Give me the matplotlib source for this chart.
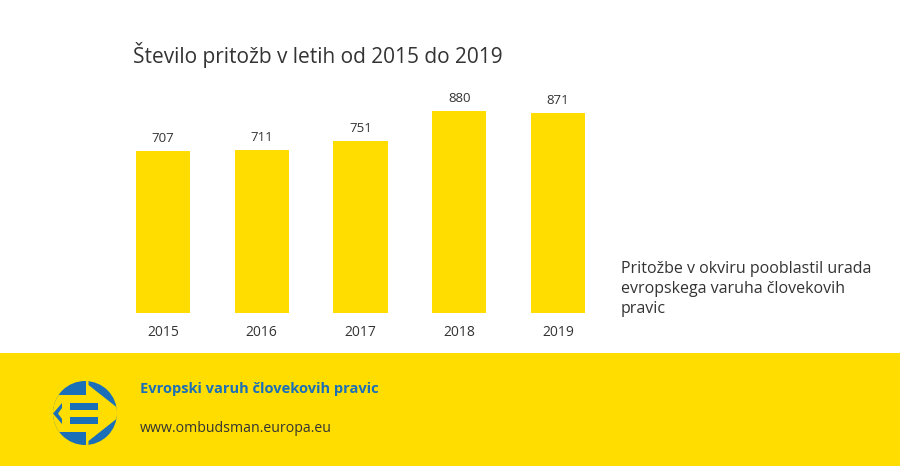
import matplotlib
matplotlib.use("Agg")
import matplotlib.pyplot as plt
from matplotlib.patches import Circle, Polygon, Rectangle

plt.rcParams['font.family'] = ['Open Sans', 'DejaVu Sans']

years = ['2015', '2016', '2017', '2018', '2019']
complaints = [707, 711, 751, 880, 871]
title = 'Število pritožb v letih od 2015 do 2019'
legend_text = 'Pritožbe v okviru pooblastil urada\nevropskega varuha človekovih\npravic'
footer_name = 'Evropski varuh človekovih pravic'
footer_url = 'www.ombudsman.europa.eu'

W, H = 900, 466
yellow = '#FFDD00'
blue = '#1B6FB8'
dark = '#333333'

fig = plt.figure(figsize=(9, 4.66), dpi=100)


def fx(x):
    return x / W


def fy(y):
    return 1 - y / H


# footer band (drawn below the axes)
fig.patches.append(Rectangle((0, 0), 1, fy(353), transform=fig.transFigure,
                             facecolor=yellow, edgecolor='none', zorder=-5))

# bar chart
ax = fig.add_axes([fx(113.6), fy(313), fx(607.4 - 113.6), (313 - 83.5) / H])
x = list(range(len(years)))
bars = ax.bar(x, complaints, width=0.55, color=yellow)
for xi, v in zip(x, complaints):
    ax.text(xi, v + 25, str(v), ha='center', va='bottom', fontsize=9.5, color=dark)
ax.set_xlim(-0.5, 4.5)
ax.set_ylim(0, 1000)
ax.set_xticks(x)
ax.set_xticklabels(years, fontsize=10, color=dark)
ax.tick_params(axis='x', length=0, pad=9)
ax.set_yticks([])
for s in ax.spines.values():
    s.set_visible(False)

fig.text(fx(133), fy(55), title, fontsize=15, color=dark, va='center', ha='left')
fig.text(fx(621), fy(289), legend_text, fontsize=11.5, color=dark, va='center',
         ha='left', linespacing=1.35)

fig.text(fx(140), fy(389), footer_name, fontsize=10.5, color=blue, weight='bold',
         va='center', ha='left')
fig.text(fx(140), fy(428), footer_url, fontsize=10.2, color=dark, va='center', ha='left')

# logo
lg = fig.add_axes([fx(45), fy(452), fx(80), 80 / H])
lg.set_xlim(45, 125)
lg.set_ylim(452, 372)
lg.axis('off')
circ = Circle((85, 413), 32, facecolor=blue, edgecolor='none')
lg.add_patch(circ)
cut = Polygon([(50, 395), (86, 395), (86, 376), (88.5, 376), (88.5, 385), (124, 413),
               (88.5, 441), (88.5, 450), (86, 450), (86, 432), (50, 432)],
              facecolor=yellow, edgecolor='none')
lg.add_patch(cut)
cut.set_clip_path(circ)
lg.add_patch(Rectangle((70, 403), 28, 6.5, facecolor=blue, edgecolor='none'))
lg.add_patch(Rectangle((70, 416.5), 28, 7, facecolor=blue, edgecolor='none'))
chev = Polygon([(53, 413.5), (62, 403), (62, 408), (58, 413.5), (62, 419), (62, 424)],
               facecolor=blue, edgecolor='none')
lg.add_patch(chev)
chev.set_clip_path(circ)

fig.savefig('out.png', dpi=100)
